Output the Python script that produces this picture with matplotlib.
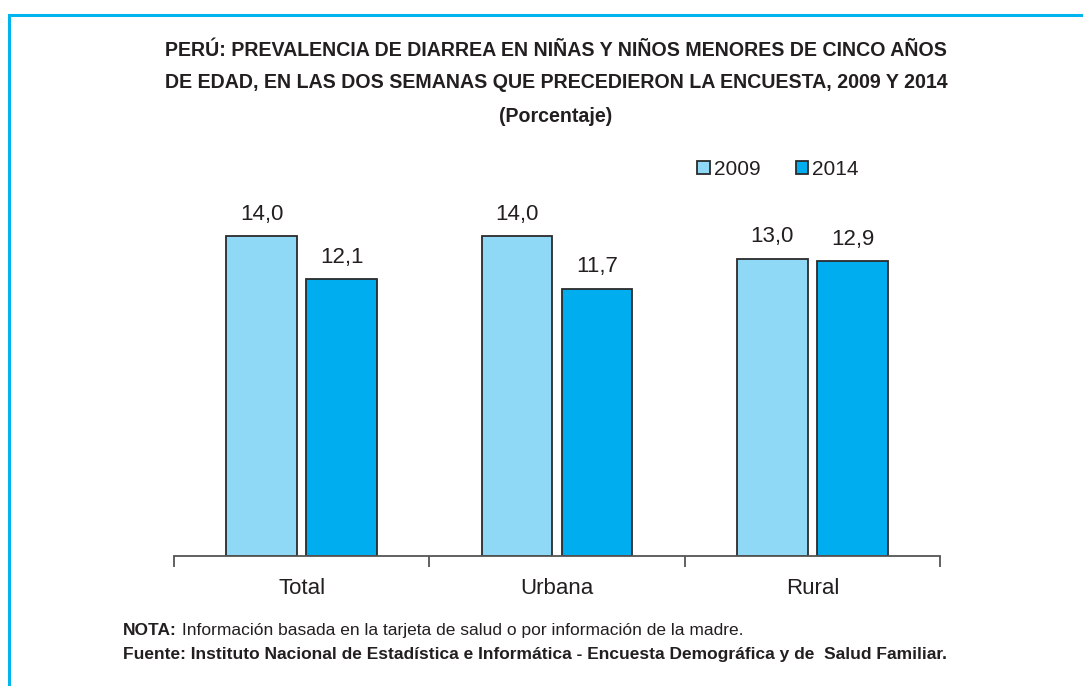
import matplotlib
matplotlib.use("Agg")
import matplotlib.pyplot as plt
from matplotlib.patches import Rectangle
import numpy as np

categories = ["Total", "Urbana", "Rural"]
series_names = ["2009", "2014"]
values_2009 = [14.0, 14.0, 13.0]
values_2014 = [12.1, 11.7, 12.9]

title_lines = [
    "PERÚ: PREVALENCIA DE DIARREA EN NIÑAS Y NIÑOS MENORES DE CINCO AÑOS",
    "DE EDAD, EN LAS DOS SEMANAS QUE PRECEDIERON LA ENCUESTA, 2009 Y 2014",
    "(Porcentaje)",
]
nota_bold = "NOTA:"
nota_text = " Información basada en la tarjeta de salud o por información de la madre."
fuente_text = "Fuente: Instituto Nacional de Estadística e Informática - Encuesta Demográfica y de  Salud Familiar."

FONT = ["Liberation Sans", "DejaVu Sans"]
plt.rcParams["font.family"] = FONT
TXT = "#231F20"
C1 = "#8FD8F6"
C2 = "#00AEEF"
EDGE = "#2B2B2B"
BORDER = "#00B4EE"

W, H = 1083, 686
fig = plt.figure(figsize=(W / 100, H / 100), dpi=100)

# border frame
fig.add_artist(Rectangle((8.5 / W, -0.1), 1.2, (H - 14.5) / H + 0.1, transform=fig.transFigure,
                         fill=False, edgecolor=BORDER, linewidth=2.2))

ax_l, ax_r, ax_b, ax_t = 174, 940, 556, 150
ax = fig.add_axes([ax_l / W, 1 - ax_b / H, (ax_r - ax_l) / W, (ax_b - ax_t) / H])

x = np.arange(len(categories))
bw = 0.277
off = 0.157
b1 = ax.bar(x - off, values_2009, bw, color=C1, edgecolor=EDGE, linewidth=1.3, label=series_names[0])
b2 = ax.bar(x + off, values_2014, bw, color=C2, edgecolor=EDGE, linewidth=1.3, label=series_names[1])

for bars, vals in ((b1, values_2009), (b2, values_2014)):
    for r, v in zip(bars, vals):
        ax.text(r.get_x() + r.get_width() / 2, v + 0.5, f"{v:.1f}".replace(".", ","),
                ha="center", va="bottom", fontsize=16, color=TXT)

ax.set_xlim(-0.5, len(categories) - 0.5)
ax.set_ylim(0, (ax_b - ax_t) / 22.86)
for s in ["top", "right", "left"]:
    ax.spines[s].set_visible(False)
ax.spines["bottom"].set_color("#555555")
ax.spines["bottom"].set_linewidth(1.3)
ax.set_yticks([])
ax.set_xticks(np.arange(len(categories) + 1) - 0.5, minor=False)
ax.set_xticklabels([""] * (len(categories) + 1))
ax.tick_params(axis="x", direction="out", length=8, width=1.3, color="#555555")
ax.set_xticks(x, minor=True)
ax.set_xticklabels(categories, minor=True, fontsize=16, color=TXT)
ax.tick_params(axis="x", which="minor", length=0, pad=16)

leg = ax.legend(handles=[b1, b2], labels=series_names, loc="upper left",
                bbox_to_anchor=((697 - ax_l) / (ax_r - ax_l), 1 + (ax_t - 160) / (ax_b - ax_t)),
                ncol=2, frameon=False, fontsize=15, handlelength=0.6, handleheight=0.6,
                handletextpad=0.2, columnspacing=1.7, borderaxespad=0, borderpad=0,
                labelcolor=TXT)

# title
ys = [50, 83, 116]
for t, yy in zip(title_lines, ys):
    fig.text(556 / W, 1 - yy / H, t, ha="center", va="center", fontsize=14.1,
             fontweight="bold", color=TXT)

# notes
t1 = fig.text(123 / W, 1 - 635 / H, nota_bold, ha="left", va="baseline", fontsize=12.5,
              fontweight="bold", color=TXT)
fig.canvas.draw()
bb = t1.get_window_extent()
fig.text(bb.x1 / W, 1 - 635 / H, nota_text, ha="left", va="baseline", fontsize=12.5, color=TXT)
fig.text(123 / W, 1 - 659 / H, fuente_text, ha="left", va="baseline", fontsize=12.5,
         fontweight="bold", color=TXT)

fig.savefig("out.png", dpi=100)
